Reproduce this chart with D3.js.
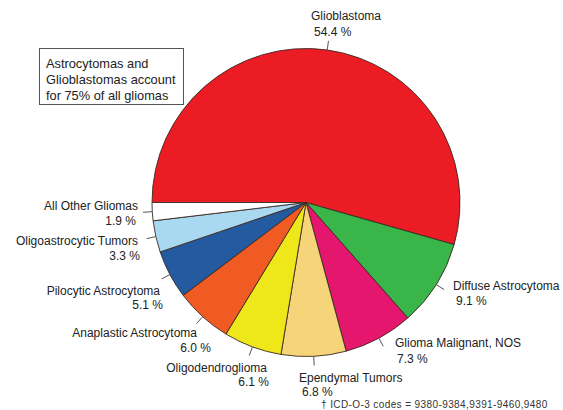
<!DOCTYPE html>
<html>
<head>
<meta charset="utf-8">
<script src="https://cdn.jsdelivr.net/npm/d3@7"></script>
<style>
  html, body { margin: 0; padding: 0; background: #fff; }
  svg { display: block; font-family: "Liberation Sans", Arial, sans-serif; }
</style>
</head>
<body>
<svg id="chart" width="563" height="410"></svg>
<script>
// Glioma subtypes, clockwise from the 9 o'clock position
const categories = [
  "Glioblastoma",
  "Diffuse Astrocytoma",
  "Glioma Malignant, NOS",
  "Ependymal Tumors",
  "Oligodendroglioma",
  "Anaplastic Astrocytoma",
  "Pilocytic Astrocytoma",
  "Oligoastrocytic Tumors",
  "All Other Gliomas"
];
const percents = [54.4, 9.1, 7.3, 6.8, 6.1, 6.0, 5.1, 3.3, 1.9];
const sliceColors = [
  "#ec1c24", "#3ab54a", "#e5166e", "#f6d479", "#eee81a",
  "#f05a23", "#245ba0", "#a9d9f1", "#ffffff"
];

const noteLines = ["Astrocytomas and", "Glioblastomas account", "for 75% of all gliomas"];
const footnote = "\u2020 ICD-O-3 codes = 9380-9384,9391-9460,9480";

// Label layout: [x of name, y of name, x of percent, y of percent, anchor]
const labelLayout = [
  [311, 16, 314, 32, "start"],
  [453, 286, 456, 301, "start"],
  [395, 343, 397, 359, "start"],
  [299, 378, 302, 392, "start"],
  [267, 368, 269, 382, "end"],
  [197, 333, 211, 348, "end"],
  [160, 291, 163, 305, "end"],
  [138, 241, 140, 256, "end"],
  [138, 206, 136, 221, "end"]
];

const svg = d3.select("#chart");
const cx = 306, cy = 202.5, R = 154;

const data = categories.map((c, i) => ({ name: c, value: percents[i], color: sliceColors[i], i }));

const pie = d3.pie()
  .value(d => d.value)
  .sort(null)
  .startAngle(-Math.PI / 2)
  .endAngle(3 * Math.PI / 2);

const arc = d3.arc().innerRadius(0).outerRadius(R);

const g = svg.append("g").attr("transform", `translate(${cx},${cy})`);
const arcs = pie(data);

g.selectAll("path.slice")
  .data(arcs)
  .join("path")
  .attr("class", "slice")
  .attr("d", arc)
  .attr("fill", d => d.data.color)
  .attr("stroke", "#3a2a22")
  .attr("stroke-width", 0.9)
  .attr("stroke-linejoin", "round");

// short leader ticks at each slice's mid angle
g.selectAll("line.tick")
  .data(arcs)
  .join("line")
  .attr("class", "tick")
  .each(function (d) {
    const a = (d.startAngle + d.endAngle) / 2;
    const sx = Math.sin(a), sy = -Math.cos(a);
    d3.select(this)
      .attr("x1", sx * R).attr("y1", sy * R)
      .attr("x2", sx * R * 1.06).attr("y2", sy * R * 1.06);
  })
  .attr("stroke", "#555")
  .attr("stroke-width", 1);

// slice labels: name and percentage
const labels = svg.append("g").attr("font-size", 12).attr("fill", "#222");
data.forEach((d, i) => {
  const [x1, y1, x2, y2, anchor] = labelLayout[i];
  labels.append("text")
    .attr("x", x1).attr("y", y1).attr("dy", "0.36em")
    .attr("text-anchor", anchor)
    .text(d.name);
  labels.append("text")
    .attr("x", x2).attr("y", y2).attr("dy", "0.36em")
    .attr("text-anchor", anchor)
    .text(d3.format(".1f")(d.value) + " %");
});

// annotation box
const note = svg.append("g");
note.append("rect")
  .attr("x", 39.5).attr("y", 48.5)
  .attr("width", 144).attr("height", 56)
  .attr("fill", "#fff")
  .attr("stroke", "#555")
  .attr("stroke-width", 1);
note.selectAll("text")
  .data(noteLines)
  .join("text")
  .attr("x", 46)
  .attr("y", (d, i) => 63 + i * 16)
  .attr("dy", "0.36em")
  .attr("font-size", 12.8)
  .attr("fill", "#222")
  .text(d => d);

svg.append("text")
  .attr("x", 321).attr("y", 404).attr("dy", "0.36em")
  .attr("font-size", 10)
  .attr("letter-spacing", 0.4)
  .attr("fill", "#333")
  .text(footnote);
</script>
</body>
</html>
